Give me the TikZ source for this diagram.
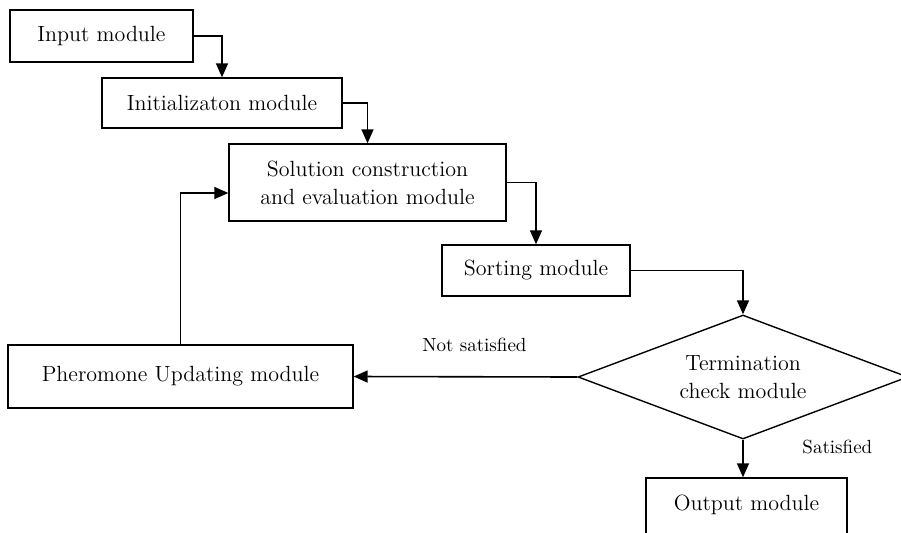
\documentclass[tikz,border=0pt]{standalone}
\usepackage{tikz}
\usetikzlibrary{arrows.meta, shapes.geometric, calc}
\tikzset{%
  >={Triangle[width=6pt,length=7pt]},
  % Specifications for style of nodes:
	base/.style = {draw, line width=0.7pt, align=center, inner sep=0pt,
	               font=\fontsize{11}{14}\selectfont},
	module/.style = {base, rectangle},
	decision/.style = {base, diamond, aspect=2.66, inner sep=0pt},
	lbl/.style = {font=\fontsize{9.5}{11}\selectfont},
	norm/.style = {->, draw, black, line width=0.8pt},
}

\begin{document}
\begin{tikzpicture}[x=0.5pt, y=-0.5pt]
  \useasboundingbox (0,0) rectangle (901,532);
  % Specification of nodes (position, size)
  \node (input) [module, minimum width=91.5pt, minimum height=26pt] at (101.5,36) {Input module};
  \node (init)  [module, minimum width=120pt, minimum height=25pt] at (222,103) {Initializaton module};
  \node (sol)   [module, minimum width=138.5pt, minimum height=38.5pt] at (367.5,182.5)
        {Solution construction\\ and evaluation module};
  \node (sort)  [module, minimum width=94pt, minimum height=25.5pt] at (536,270.5) {Sorting module};
  \node (term)  [decision, minimum width=165pt, minimum height=62pt] at (743,377)
        {Termination\\ check module};
  \node (pher)  [module, minimum width=172.5pt, minimum height=31.5pt] at (180.5,376.5)
        {Pheromone Updating module};
  \node (out)   [module, minimum width=100.5pt, minimum height=31pt, text depth=6pt] at (746.5,509)
        {Output module};

  % Connectors
  \draw [norm] (input.east) -| (init.north);
  \draw [norm] (init.east) -| (sol.north);
  \draw [norm] (sol.east) -| (sort.north);
  \draw [norm] (sort.east) -| (term.north);
  \draw [norm] (term.west) -- node [lbl, pos=0.46, above=9pt] {Not satisfied} (pher.east);
  \draw [norm] (term.south) -- node [lbl, pos=0.2, right=26pt] {Satisfied} (term.south |- out.north);
  \draw [norm] (pher.north) |- ($(sol.west)+(0,10.5)$);
\end{tikzpicture}
\end{document}
